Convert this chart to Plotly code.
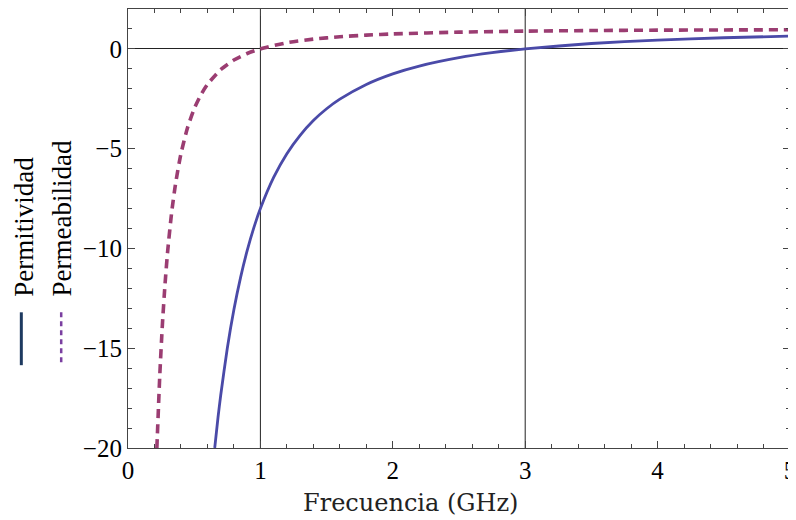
import plotly.graph_objects as go

# Permittivity (solid)
eps_x = [0.655, 0.68, 0.70, 0.75, 0.80, 0.85, 0.90, 0.95, 1.0, 1.1, 1.2, 1.3, 1.4, 1.5, 1.6,
         1.8, 2.0, 2.2, 2.5, 2.75, 3.0, 3.5, 4.0, 4.5, 5.0]
eps_y = [-20.0, -18.46, -17.37, -15.0, -13.06, -11.46, -10.11, -8.97, -8.0, -6.44, -5.25, -4.33,
         -3.59, -3.0, -2.52, -1.78, -1.25, -0.86, -0.44, -0.19, 0.0, 0.27, 0.44, 0.56, 0.64]

# Permeability (dashed)
mu_x = [0.218, 0.22, 0.24, 0.26, 0.28, 0.30, 0.33, 0.36, 0.40, 0.45, 0.50, 0.55, 0.60, 0.70, 0.80,
        0.90, 1.0, 1.2, 1.4, 1.6, 1.8, 2.0, 2.5, 3.0, 3.5, 4.0, 4.5, 5.0]
mu_y = [-20.0, -19.66, -16.36, -13.79, -11.76, -10.11, -8.18, -6.72, -5.25, -3.94, -3.0, -2.31,
        -1.78, -1.04, -0.56, -0.23, 0.0, 0.31, 0.49, 0.61, 0.69, 0.75, 0.84, 0.89, 0.92, 0.94,
        0.95, 0.96]

ref_x = [1, 3]
x_ticks = [0, 1, 2, 3, 4, 5]
y_ticks = [-20, -15, -10, -5, 0]
legend_labels = ["Permitividad", "Permeabilidad"]
x_title = "Frecuencia (GHz)"

SOLID = "#4a4aa8"
DASH = "#9b3d72"

fig = go.Figure()
fig.add_trace(go.Scatter(x=eps_x, y=eps_y, mode="lines", name=legend_labels[0],
                         line=dict(color=SOLID, width=2.8, shape="spline", smoothing=0.6)))
fig.add_trace(go.Scatter(x=mu_x, y=mu_y, mode="lines", name=legend_labels[1],
                         line=dict(color=DASH, width=3.6, dash="9px,6px", shape="spline", smoothing=0.6)))

for xv in ref_x:
    fig.add_shape(type="line", xref="x", yref="paper", x0=xv, x1=xv, y0=0, y1=1,
                  line=dict(color="#222222", width=1), layer="below")

tickfont = dict(family="Liberation Serif", size=25, color="black")
axis_common = dict(showline=True, mirror="allticks", linecolor="#444444", linewidth=1.2,
                   ticks="inside", ticklen=7, tickcolor="#444444", showgrid=False,
                   tickfont=tickfont, ticklabeloverflow="allow")

fig.update_xaxes(range=[0, 5], tickvals=x_ticks, zeroline=False,
                 minor=dict(ticks="inside", ticklen=4, dtick=0.2, tickcolor="#444444", showgrid=False),
                 **axis_common)
fig.update_yaxes(range=[-20, 2], tickvals=y_ticks, zeroline=True, zerolinecolor="#222222",
                 zerolinewidth=1,
                 minor=dict(ticks="inside", ticklen=4, dtick=1, tickcolor="#444444", showgrid=False),
                 **axis_common)

# page-pixel helpers (plot area spans page x 128..792, y 8..448)
W = 664.0
H = 440.0
def px_x(p):
    return (p - 128) / W
def px_y(p):
    return 1 - (p - 8) / H

fig.add_annotation(text=x_title, xref="paper", yref="paper", x=px_x(411), y=px_y(503),
                   xanchor="center", yanchor="middle", showarrow=False,
                   font=dict(family="DejaVu Serif", size=24, color="#222"))

leg_x = [24, 62]
leg_line_x = [21, 61]
leg_colors = ["#1e3a60", "#7a3fa0"]
leg_dash = ["solid", "5px,4px"]
for i, lab in enumerate(legend_labels):
    fig.add_annotation(text=lab, xref="paper", yref="paper", x=px_x(leg_x[i]), y=px_y(298),
                       xanchor="center", yanchor="bottom", textangle=-90, showarrow=False,
                       font=dict(family="Liberation Serif", size=27, color="black"))
    fig.add_shape(type="line", xref="paper", yref="paper", x0=px_x(leg_line_x[i]),
                  x1=px_x(leg_line_x[i]), y0=px_y(312), y1=px_y(365),
                  line=dict(color=leg_colors[i], width=3 if i == 0 else 2.5, dash=leg_dash[i]))

# the page body adds an 8px offset, so the figure is sized to fit the window
fig.update_layout(width=788, height=512, margin=dict(l=120, r=4, t=0, b=72),
                  plot_bgcolor="white", paper_bgcolor="white", showlegend=False)

fig.write_html("out.html")
